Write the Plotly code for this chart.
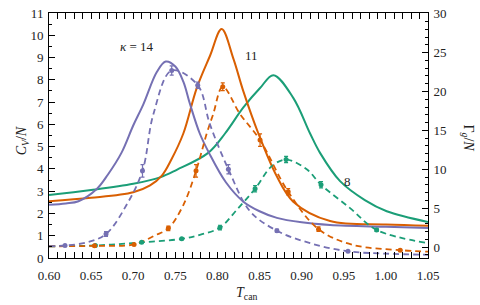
import plotly.graph_objects as go

PURPLE = "#7570b3"
ORANGE = "#d95f02"
GREEN = "#1b9e77"

# ---- C_V/N (solid, left axis) ----
cv14_x = [0.60, 0.62, 0.635, 0.657, 0.67, 0.686, 0.70, 0.712, 0.728, 0.7386, 0.75, 0.7595, 0.7675, 0.779, 0.79, 0.81, 0.8308, 0.85, 0.8706, 0.90, 0.9337, 1.00, 1.05]
cv14_y = [2.39, 2.45, 2.55, 3.11, 3.75, 4.72, 5.95, 6.9, 8.35, 8.82, 8.6, 7.92, 6.9, 5.59, 4.72, 3.4, 2.53, 2.1, 1.80, 1.6, 1.48, 1.4, 1.35]

cv11_x = [0.60, 0.65, 0.70, 0.72, 0.734, 0.745, 0.7595, 0.7754, 0.7912, 0.805, 0.819, 0.8308, 0.8486, 0.87, 0.89, 0.9337, 1.00, 1.05]
cv11_y = [2.55, 2.7, 2.95, 3.26, 3.7, 4.4, 5.59, 7.63, 9.08, 10.28, 8.94, 7.48, 5.59, 3.7, 2.53, 1.66, 1.5, 1.45]

cv8_x = [0.60, 0.65, 0.70, 0.7318, 0.7517, 0.789, 0.809, 0.8308, 0.8506, 0.8664, 0.89, 0.91, 0.9218, 0.9456, 0.975, 1.001, 1.05]
cv8_y = [2.83, 3.05, 3.33, 3.62, 3.96, 4.72, 5.59, 6.76, 7.63, 8.21, 7.19, 5.59, 4.72, 3.45, 2.6, 2.10, 1.62]

# ---- Gamma_g/N (dashed, right axis): curve points ----
g14_x = [0.60, 0.619, 0.645, 0.6677, 0.692, 0.711, 0.724, 0.7457, 0.7766, 0.791, 0.813, 0.8387, 0.8706, 0.91, 0.955, 1.00, 1.05]
g14_y = [0.1, 0.2, 0.6, 1.67, 5.4, 9.8, 17.1, 22.7, 20.8, 15.8, 10.0, 4.6, 2.1, 0.5, -0.55, -0.85, -1.0]

g11_x = [0.60, 0.654, 0.701, 0.726, 0.7417, 0.7595, 0.7746, 0.7873, 0.795, 0.8063, 0.8268, 0.8506, 0.884, 0.920, 0.96, 1.017, 1.05]
g11_y = [0.1, 0.15, 0.34, 1.5, 2.4, 5.4, 9.8, 14.6, 17.1, 20.6, 17.1, 13.75, 7.1, 2.3, 0.3, -0.4, -0.6]

g8_x = [0.60, 0.655, 0.71, 0.7576, 0.78, 0.803, 0.823, 0.8447, 0.8645, 0.8815, 0.906, 0.923, 0.9575, 0.989, 1.05]
g8_y = [0.1, 0.2, 0.6, 1.05, 1.6, 2.5, 4.8, 7.5, 10.4, 11.25, 10.0, 8.0, 5.0, 2.2, 0.5]

# ---- Gamma_g/N: measured points with error bars ----
m14_x = [0.619, 0.6677, 0.711, 0.7457, 0.7766, 0.813, 0.8706, 0.955]
m14_y = [0.2, 1.67, 9.8, 22.7, 20.8, 10.0, 2.1, -0.55]
m14_e = [0.1, 0.3, 0.8, 0.6, 0.4, 0.6, 0.2, 0.1]

m11_x = [0.654, 0.701, 0.7417, 0.7746, 0.8063, 0.8506, 0.884, 0.920, 1.017]
m11_y = [0.15, 0.34, 2.4, 9.8, 20.6, 13.75, 7.1, 2.3, -0.4]
m11_e = [0.1, 0.1, 0.3, 0.8, 0.5, 0.8, 0.4, 0.3, 0.1]

m8_x = [0.655, 0.71, 0.7576, 0.803, 0.8447, 0.8815, 0.923, 0.989]
m8_y = [0.2, 0.6, 1.05, 2.5, 7.5, 11.25, 8.0, 2.2]
m8_e = [0.1, 0.1, 0.1, 0.3, 0.4, 0.4, 0.4, 0.2]

x_ticks = [0.60, 0.65, 0.70, 0.75, 0.80, 0.85, 0.90, 0.95, 1.00, 1.05]
x_ticklabels = ["0.60", "0.65", "0.70", "0.75", "0.80", "0.85", "0.90", "0.95", "1.00", "1.05"]
y_ticks = list(range(0, 12))
y2_ticks = [0, 5, 10, 15, 20, 25, 30]

FONT = "Liberation Serif"
TXT = "#222222"

fig = go.Figure()

for xs, ys, c in [(cv8_x, cv8_y, GREEN), (cv11_x, cv11_y, ORANGE), (cv14_x, cv14_y, PURPLE)]:
    fig.add_trace(go.Scatter(x=xs, y=ys, mode="lines", line=dict(color=c, width=2, shape="spline", smoothing=1.0),
                             showlegend=False, hoverinfo="skip"))

for xs, ys, c in [(g8_x, g8_y, GREEN), (g11_x, g11_y, ORANGE), (g14_x, g14_y, PURPLE)]:
    fig.add_trace(go.Scatter(x=xs, y=ys, mode="lines", yaxis="y2",
                             line=dict(color=c, width=1.8, dash="6px,4px", shape="spline", smoothing=1.0),
                             showlegend=False, hoverinfo="skip"))

for xs, ys, es, c in [(m8_x, m8_y, m8_e, GREEN), (m11_x, m11_y, m11_e, ORANGE), (m14_x, m14_y, m14_e, PURPLE)]:
    fig.add_trace(go.Scatter(x=xs, y=ys, mode="markers", yaxis="y2",
                             marker=dict(color=c, size=5, symbol="circle"),
                             error_y=dict(type="data", array=es, color=c, thickness=1.2, width=2),
                             showlegend=False, hoverinfo="skip"))

axis_common = dict(showline=True, linecolor="black", linewidth=1, ticks="inside", tickcolor="black",
                   tickwidth=1, ticklen=6, showgrid=False, zeroline=False, ticklabeloverflow="allow",
                   tickfont=dict(family=FONT, size=13, color=TXT))

fig.update_layout(
    width=480, height=305,
    margin=dict(l=49, r=52, t=6, b=47),
    paper_bgcolor="white", plot_bgcolor="white",
    font=dict(family=FONT, size=13, color=TXT),
    xaxis=dict(range=[0.60, 1.05], tickvals=x_ticks, ticktext=x_ticklabels, mirror="allticks",
               ticklabelstandoff=5,
               minor=dict(dtick=0.01, ticks="inside", ticklen=3, tickcolor="black"),
               **axis_common),
    yaxis=dict(range=[0, 11], tickvals=y_ticks, mirror=False, ticklabelstandoff=2,
               minor=dict(dtick=0.5, ticks="inside", ticklen=3, tickcolor="black"),
               **axis_common),
    yaxis2=dict(range=[-1.41, 30.09], tickvals=y2_ticks, overlaying="y", side="right", ticklabelstandoff=2,
                minor=dict(dtick=1, ticks="inside", ticklen=3, tickcolor="black"),
                **axis_common),
)

pw = 480 - 49 - 52
ph = 305 - 6 - 47


def px_to_paper(xp, yp):
    return (xp - 49) / pw, (305 - 47 - yp) / ph


annots = [
    dict(x=0.705, y=9.49, xref="x", yref="y", text="<i>κ</i> = 14", showarrow=False,
         xanchor="center", yanchor="middle", font=dict(family=FONT, size=13, color=TXT)),
    dict(x=0.8407, y=9.1, xref="x", yref="y", text="11", showarrow=False,
         xanchor="center", yanchor="middle", font=dict(family=FONT, size=13, color=TXT)),
    dict(x=0.955, y=3.45, xref="x", yref="y", text="8", showarrow=False,
         xanchor="center", yanchor="middle", font=dict(family=FONT, size=13, color=TXT)),
]
for (xp, yp, txt, ang) in [(22, 137, "<i>C</i><sub><i>V</i></sub>/<i>N</i>", -90),
                           (468, 134, "Γ<sub><i>g</i></sub>/<i>N</i>", 90),
                           (246, 295, "<i>T</i><sub>can</sub>", 0)]:
    px_, py_ = px_to_paper(xp, yp)
    annots.append(dict(x=px_, y=py_, xref="paper", yref="paper", text=txt, showarrow=False,
                       textangle=ang, xanchor="center", yanchor="middle",
                       font=dict(family=FONT, size=14, color=TXT)))
fig.update_layout(annotations=annots)

fig.write_html("out.html", config={"displayModeBar": False},
               post_script="document.body.style.margin='0px';")
